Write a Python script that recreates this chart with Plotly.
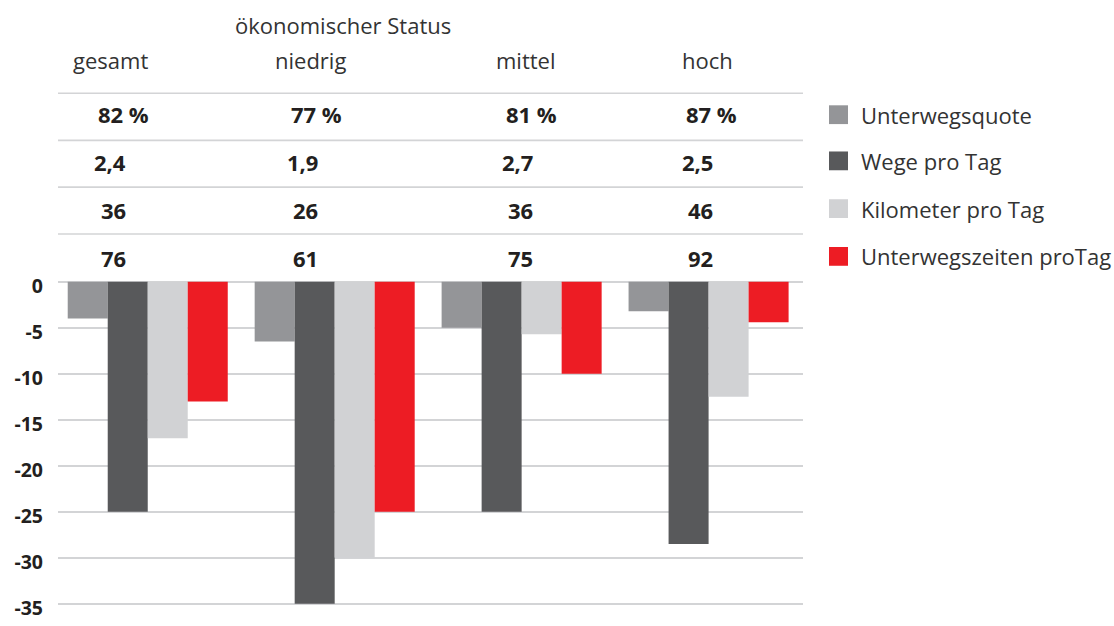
import plotly.graph_objects as go

# ---------------- data ----------------
groups = ["gesamt", "niedrig", "mittel", "hoch"]
super_header = "ökonomischer Status"
series_names = ["Unterwegsquote", "Wege pro Tag", "Kilometer pro Tag", "Unterwegszeiten proTag"]
unterwegsquote = [-4.0, -6.5, -5.0, -3.2]
wege_pro_tag = [-25.0, -35.0, -25.0, -28.5]
kilometer_pro_tag = [-17.0, -30.0, -5.7, -12.5]
unterwegszeiten = [-13.0, -25.0, -10.0, -4.4]
row_quote = ["82 %", "77 %", "81 %", "87 %"]
row_wege = ["2,4", "1,9", "2,7", "2,5"]
row_km = ["36", "26", "36", "46"]
row_zeit = ["76", "61", "75", "92"]
y_ticks = [0, -5, -10, -15, -20, -25, -30, -35]

# ---------------- style / layout ----------------
colors = ["#949598", "#58595b", "#d1d2d4", "#ed1c24"]
W, H = 1114, 626
PL, PR, PT, PB = 58, 803, 88, 621
ZERO_PX = 284            # pixel row of the zero line
PX_PER_UNIT = 9.306
Y_MIN = -(PB - ZERO_PX) / PX_PER_UNIT
Y_MAX = (ZERO_PX - PT) / PX_PER_UNIT
GRID = "#d3d4d6"
FONT = "Open Sans"
TXT = "#231f20"
LABEL = "#333333"


def fx(px):
    return (px - PL) / (PR - PL)


def fy(py):
    return (PB - py) / (PB - PT)


fig = go.Figure()
series_values = [unterwegsquote, wege_pro_tag, kilometer_pro_tag, unterwegszeiten]
for name, vals, col in zip(series_names, series_values, colors):
    fig.add_trace(go.Bar(x=groups, y=vals, name=name, marker=dict(color=col, line=dict(width=0)),
                         showlegend=False))

annotations = []
shapes = []

# headers
annotations.append(dict(text=super_header, x=fx(342.5), y=fy(24), xref="paper", yref="paper",
                        xanchor="center", yanchor="middle", showarrow=False,
                        font=dict(family=FONT, size=22, color=LABEL)))
header_x = [110.8, 310.8, 525.8, 707.2]
for g, hx in zip(groups, header_x):
    annotations.append(dict(text=g, x=fx(hx), y=fy(60), xref="paper", yref="paper",
                            xanchor="center", yanchor="middle", showarrow=False,
                            font=dict(family=FONT, size=22, color=LABEL)))

# table rows
rows = [row_quote, row_wege, row_km, row_zeit]
row_y = [113.8, 162.8, 211.5, 259.8]
col_right = [127.5, 320.0, 535.0, 715.3]
for ri, (row, ry) in enumerate(zip(rows, row_y)):
    for txt, cr in zip(row, col_right):
        xr = cr + (23.5 if ri == 0 else 0)
        annotations.append(dict(text=txt, x=fx(xr), y=fy(ry), xref="paper", yref="paper",
                                xanchor="right", yanchor="middle", showarrow=False,
                                font=dict(family=FONT, size=22, color=TXT, weight="bold")))

# table separator lines
for ly in [93.3, 141.0, 188.3, 235.7]:
    shapes.append(dict(type="line", xref="paper", yref="paper", x0=0, x1=1, y0=fy(ly), y1=fy(ly),
                       line=dict(color=GRID, width=1.6), layer="below"))

# manual legend
legend_y = [115.0, 161.7, 210.0, 258.3]
for name, col, ly in zip(series_names, colors, legend_y):
    shapes.append(dict(type="rect", xref="paper", yref="paper", x0=fx(829), x1=fx(848),
                       y0=fy(ly + 9.5), y1=fy(ly - 9.5), fillcolor=col, line=dict(width=0)))
    annotations.append(dict(text=name, x=fx(859), y=fy(ly), xref="paper", yref="paper",
                            xanchor="left", yanchor="middle", showarrow=False,
                            font=dict(family=FONT, size=22, color=LABEL)))

fig.update_layout(
    width=W, height=H,
    margin=dict(l=PL, r=W - PR, t=PT, b=H - PB, pad=0),
    paper_bgcolor="white", plot_bgcolor="white",
    barmode="group", bargap=0.144, bargroupgap=0,
    showlegend=False,
    annotations=annotations, shapes=shapes,
    xaxis=dict(type="category", range=[-0.48, 3.505], showticklabels=False, showgrid=False,
               zeroline=False, showline=False, ticks=""),
    yaxis=dict(range=[Y_MIN, Y_MAX], tickvals=y_ticks, ticktext=[str(v) for v in y_ticks],
               showgrid=True, gridcolor=GRID, gridwidth=1.6, zeroline=True, zerolinecolor=GRID,
               zerolinewidth=1.6, showline=False, ticks="", ticklabelstandoff=14,
               ticklabelshift=4, ticklabeloverflow="allow",
               tickfont=dict(family=FONT, size=19.5, color=TXT, weight="bold")),
)

fig.write_html("out.html", config={"displayModeBar": False},
               post_script="document.body.style.margin='0';document.body.style.overflow='hidden';")
